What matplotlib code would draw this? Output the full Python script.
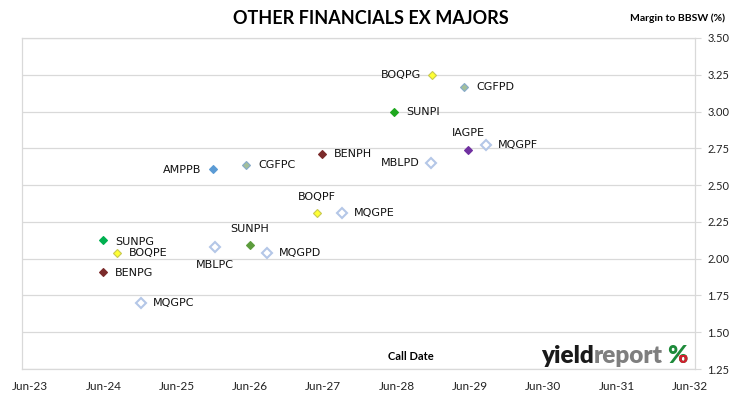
import matplotlib
matplotlib.use("Agg")
import matplotlib.pyplot as plt
import matplotlib.dates as mdates
from matplotlib.transforms import Bbox
import pandas as pd

# --- data ---
securities = ["BOQPG", "CGFPD", "SUNPI", "IAGPE", "MQGPF", "MBLPD", "BENPH", "CGFPC", "AMPPB",
              "BOQPF", "MQGPE", "SUNPH", "MBLPC", "MQGPD", "SUNPG", "BOQPE", "BENPG", "MQGPC"]
call_dates = ["2028-11-24", "2029-05-02", "2028-05-19", "2029-05-22", "2029-08-20", "2028-11-20",
              "2027-05-26", "2026-05-13", "2025-11-30", "2027-05-01", "2027-09-02", "2026-06-01",
              "2025-12-08", "2026-08-25", "2024-05-30", "2024-08-08", "2024-05-30", "2024-12-06"]
margins = [3.25, 3.17, 3.00, 2.74, 2.77, 2.65, 2.71, 2.64, 2.61,
           2.31, 2.31, 2.09, 2.08, 2.04, 2.13, 2.04, 1.91, 1.70]
tick_dates = ["2023-06-01", "2024-06-01", "2025-06-01", "2026-06-01", "2027-06-01",
              "2028-06-01", "2029-06-01", "2030-06-01", "2031-06-01", "2032-06-01"]
y_ticks = [1.25, 1.50, 1.75, 2.00, 2.25, 2.50, 2.75, 3.00, 3.25, 3.50]

# marker style per issuer (face, edge)
styles = {
    "BOQ": ("#ffff33", "#c8c850"),
    "CGF": ("#a3bf9a", "#86aacb"),
    "SUNPI": ("#1fa81f", "#1fa81f"),
    "SUNPG": ("#00b050", "#00b050"),
    "SUNPH": ("#5c9c3c", "#5c9c3c"),
    "IAG": ("#7030a0", "#7030a0"),
    "BEN": ("#7b2b2b", "#7b2b2b"),
    "AMP": ("#5b9bd5", "#5b9bd5"),
    "MQG": ("#ffffff", "#b4c7e7"),
    "MBL": ("#ffffff", "#b4c7e7"),
}
# label placement relative to marker: (dx, dy, ha) in pixels
placement = {
    "BOQPG": (-11, 0, "right"), "CGFPD": (12, 0, "left"), "SUNPI": (12, 0, "left"),
    "IAGPE": (0, 17, "center"), "MQGPF": (12, 0, "left"), "MBLPD": (-12, 0, "right"),
    "BENPH": (12, 0, "left"), "CGFPC": (12, 0, "left"), "AMPPB": (-12, -1, "right"),
    "BOQPF": (0, 16, "center"), "MQGPE": (12, 0, "left"), "SUNPH": (0, 16, "center"),
    "MBLPC": (0, -18, "center"), "MQGPD": (12, 0, "left"), "SUNPG": (12, -2, "left"),
    "BOQPE": (12, 0, "left"), "BENPG": (12, -1, "left"), "MQGPC": (12, 0, "left"),
}

cal = ["Lato", "DejaVu Sans"]

x = mdates.date2num(pd.to_datetime(call_dates))
xt = mdates.date2num(pd.to_datetime(tick_dates))
year = xt[1] - xt[0]

fig = plt.figure(figsize=(7.3, 3.99), dpi=100)
ax = fig.add_axes([22 / 730, 30 / 399, 673 / 730, 331 / 399])

for name, xi, yi in zip(securities, x, margins):
    key = name if name in styles else name[:3]
    fc, ec = styles[key]
    hollow = fc == "#ffffff"
    ax.plot(xi, yi, marker="D", markersize=4.6 if hollow else 4.3, markerfacecolor=fc,
            markeredgecolor=ec, markeredgewidth=1.5 if hollow else 0.8, linestyle="none", zorder=3)
    dx, dy, ha = placement[name]
    ax.annotate(name, (xi, yi), xytext=(dx, dy), textcoords="offset pixels",
                ha=ha, va="center", fontsize=8, color="#111111")

ax.set_xlim(xt[0] - 0.109 * year, xt[-1] + 0.068 * year)
ax.set_ylim(1.25, 3.50)
ax.yaxis.tick_right()
ax.set_yticks(y_ticks)
ax.set_yticklabels([f"{v:.2f}" for v in y_ticks], fontsize=8, family=cal, color="#222222")
ax.tick_params(axis="y", length=4, color="#d9d9d9", pad=5)
ax.set_xticks(xt)
ax.set_xticklabels([pd.Timestamp(d).strftime("%b-%y") for d in tick_dates],
                   fontsize=8.5, family=cal, color="#222222")
ax.tick_params(axis="x", length=0, pad=9)
ax.grid(axis="y", color="#d9d9d9", linewidth=0.9)
for s in ax.spines.values():
    s.set_color("#d9d9d9")
    s.set_linewidth(0.9)

fig.text(371 / 730, 1 - 19 / 399, "OTHER FINANCIALS EX MAJORS", ha="center", va="center",
         fontsize=13, fontweight="bold", family=cal)
fig.text(677 / 730, 1 - 18 / 399, "Margin to BBSW (%)", ha="center", va="center",
         fontsize=7.5, fontweight="bold", family=cal)
ax.text(0.578, 0.02, "Call Date", transform=ax.transAxes, ha="center", va="bottom",
        fontsize=8, fontweight="bold", family=cal)

# yieldreport logo
fig.canvas.draw()
r = fig.canvas.get_renderer()
base = 1 - 363 / 399
logo = dict(va="baseline", fontsize=17.5, fontweight="heavy", family=cal)
fig.text(594 / 730, base, "yield", ha="right", color="#1a1a1a", **logo)
t2 = fig.text(594 / 730, base, "report", ha="left", color="#7f7f7f", **logo)
bb = t2.get_window_extent(renderer=r)
px = bb.x1 / 730 + 4 / 730
pct = fig.text(px, base, "%", ha="left", color="#1e8a3a", **logo)
pb = pct.get_window_extent(renderer=r)
# lower ring of the % sign in red
red = fig.text(px, base, "%", ha="left", color="#d0202e", **logo)
base_px = base * 399
red.set_clip_box(Bbox([[(pb.x0 + pb.x1) / 2 + 1, base_px - 3], [pb.x1 + 3, base_px + 8]]))
red.set_clip_on(True)

fig.savefig("out.png", dpi=100)
